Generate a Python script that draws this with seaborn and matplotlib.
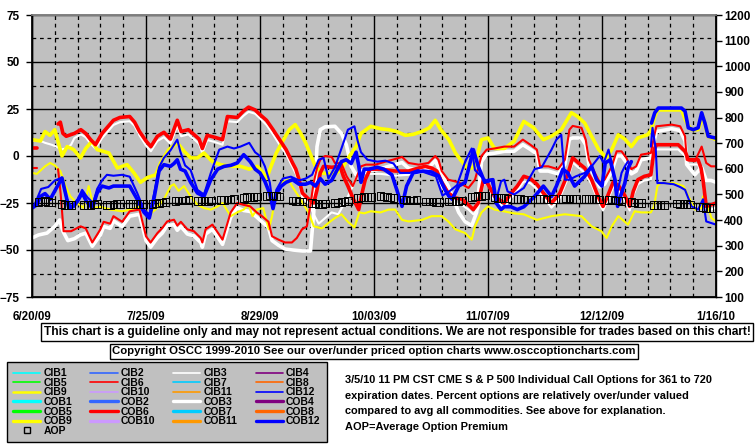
import numpy as np
import pandas as pd
import matplotlib
matplotlib.use('Agg')
import matplotlib.pyplot as plt
from matplotlib.lines import Line2D
from matplotlib.ticker import MultipleLocator, FixedLocator
from matplotlib import font_manager
import seaborn as sns

nan = np.nan

# ---------------- data (day offset from 6/20/09, percent over/under) ----------------
START = pd.Timestamp('2009-06-20')
DATE_TICKS = [0, 35, 70, 105, 140, 175, 210]
DATE_LABELS = ['6/20/09', '7/25/09', '8/29/09', '10/03/09', '11/07/09', '12/12/09', '1/16/10']

COB6 = [(0,4),(1.5,4),(2,nan),(8,17),(8.7,18),(9.5,12),(10.5,10.5),(13,12),(15,14),(16.5,12),(18,8.7),(19.5,6),
        (21.5,12),(23,15),(25,19),(27,20.5),(30,21),(31.5,18),(33,13),(35,8),(36.5,5),(38.5,10.5),(40.5,12.6),
        (42.5,9),(44.6,19),(45.8,13),(48,14),(50,11),(51.3,9),(52.3,4),(53.8,11),(56,10),(58.5,8.7),(60,21),
        (63,20.5),(65,24),(66.5,26),(68.5,24.5),(70,22),(72,19),(74,14),(76,8.7),(78,3.4),(80,-3.7),(81,-7),
        (82,-12.6),(83,-19.7),(85,-23),(86.5,-25),(87.5,-18),(88.5,-9),(89.5,-5.5),(92,-6),(94.6,-5.5),
        (95.6,-10.8),(97,-16),(98.7,-23),(100.3,-28.5),(101.3,-20),(102.3,-12.6),(103.8,-7),(107,-7),(111.5,-8),
        (115.6,-8),(118.7,-6.4),(120.7,-5.5),(122.7,-6.4),(124.3,-8),(125.8,-14),(127.8,-19.7),(130,-22.3),
        (132,-23),(134,-26),(135.5,-28.5),(137,-25),(138.6,-12.6),(140,-15),(142,-21.5),(145,-25),(147,-20),
        (149,-16),(151,-10.8),(153,-12),(155,-15),(157,-19.7),(159.5,-25),(162,-20),(164.6,-9),(166,-1),(168,-4),
        (169.7,-6.4),(171.8,-12.6),(173.8,-21.5),(175.3,-26.8),(176.8,-21),(178.4,-14),(180,-15.5),(182,-21),
        (183.5,-26.8),(184.6,-18.8),(186,-12.6),(188,-10.8),(190,-10),(191,3.4),(191.7,6),(198.4,6),(200.5,2.5),
        (201.5,-2),(204.5,-2),(205.4,-6.4),(206,-12.6),(207,-26.8),(208.5,-26),(210,-25)]

CIB6 = [(0,-6.5),(1.5,-6.5),(2,nan),(8,-7),(8.8,-20),(9.7,-40),(12,-40),(14.9,-37.4),(16.5,-38.5),(18.5,-46),
        (21,-39),(22,-35),(24,-36),(25,-32),(27.7,-35),(30,-29.4),(33,-28.5),(35,-42.7),(36.4,-46),(38.5,-41),
        (40,-38.3),(41.5,-34.8),(43.6,-33.9),(44.6,-37),(45.7,-35),(47.7,-39),(49.7,-40),(51.8,-43.6),(52.3,-46),
        (53.3,-39),(55.4,-36.5),(58.5,-44.5),(61,-30),(63,-25),(65,-26),(67,-26.8),(69,-30),(70.6,-32),(72.6,-35),
        (73.7,-42.7),(75.7,-44.5),(77.7,-46),(79.8,-46),(81.3,-43.6),(82.9,-39),(84.4,-37.4),(85.4,-26.8),
        (86.5,-14),(87.5,-6.4),(88.5,-2),(90,0),(92,-0.5),(93,-3.7),(95,-4),(96.6,-10.8),(98.5,-16),(99.5,-12),
        (101,-5.5),(102.5,-4.6),(105.4,-4.6),(108.5,-3),(111.5,-1.6),(113.6,-0.5),(115.6,-3.7),(118.7,-4.6),
        (121.7,-3.7),(123.8,0),(124.8,-2),(125.8,-8),(127.8,-12.6),(131,-14),(134,-17),(136,-12.6),(138,0),
        (139.6,3.4),(142,4),(145,5),(148,5),(150.7,8.7),(153,6),(155,3.4),(156,-5.5),(158.5,-5.5),(161.5,-7),
        (163.6,-2),(165,14),(166,16),(168.7,15),(170,8.7),(171,-2),(172.8,-9),(174.3,-14),(175.8,-12.6),
        (178,-5.5),(179.5,2.5),(181,2.5),(182.5,-1),(184,-7),(185.5,-5.5),(187,0.7),(190,1.6),(191,10.5),
        (191.7,15.8),(196.4,16.7),(199,15.8),(200.5,10.5),(201,-2),(203.5,-2.8),(205.6,5),(207,-3.7),
        (208.5,-5.5),(210,-5.5)]

CIB3 = [(0,8),(2,8.5),(4,7),(6,6),(7.5,5),(9,3.5),(10.5,4),(12,6),(13,9.5),(15,11.5),(16.5,10),(18,6.5),(19.5,4),
        (21.5,9.5),(23,12.5),(25,16.5),(27,18),(30,18.5),(31.5,16),(33,11),(35,5.5),(36.5,2.5),(38.5,8),(40.5,10),
        (42.5,6.5),(44.6,16),(45.8,10.5),(48,11.5),(50,8.5),(51.3,6.5),(52.3,1.5),(53.8,8.5),(56,7.5),(58.5,6),
        (60,18.5),(63,18),(65,21.5),(66.5,23.5),(68.5,22.5),(70,20),(72,16.5),(74,11.5),(76,6),(78,1),(80,-6),
        (81,-9.5),(82,-15),(83,-22),(85,-25.5),(86.5,-31),(88,-36),(90,-33),(92,-30),(94,-31),(96,-25),(98,-18),
        (100,-10),(102,-9),(104,-9.5),(107,-9.5),(111.5,-10.5),(115.6,-10),(118.7,-9),(120.7,-8),(122.7,-9),
        (124.3,-10.5),(125.8,-16.5),(127.8,-22),(130,-25),(132,-26),(134,-28.5),(135.5,-31),(137,-28),
        (138.6,-15),(140,-14.5),(141.5,-22.5),(143,-24.5),(145,-27.5),(147,-22.5),(149,-18.5),(151,-13.5),
        (153,-14.5),(155,-17.5),(157,-22),(159.5,-27.5),(162,-22.5),(164.6,-11.5),(166,-3.5),(168,-6.5),
        (169.7,-9),(171.8,-15),(173.8,-24),(175.3,-29),(176.8,-23.5),(178.4,-16.5),(180,-18),(182,-23.5),
        (183.5,-29),(184.6,-21),(186,-15),(188,-13),(190,-12.5),(191,1),(191.7,3.5),(198.4,3.5),(200.5,0),
        (201.5,-4.5),(204.5,-4.5),(205.4,-9),(206,-15),(207,-29),(208.5,-28.5),(210,-27.5)]

COB3 = [(0,-43.6),(2,-42),(4.6,-41),(7,-37.4),(8.5,-34),(9.5,-40),(11,-45),(13,-44),(14.8,-42),(16.5,-41),
        (18.5,-48),(21,-42),(22,-37.5),(24,-38.5),(25,-34.5),(27.7,-37.5),(30,-32),(33,-31),(35,-45),(36.4,-48.5),
        (38.5,-43.5),(40,-41),(41.5,-37),(43.6,-36.5),(44.6,-39.5),(45.7,-37.5),(47.7,-41.5),(49.7,-42.5),
        (51.8,-46),(52.3,-48.5),(53.3,-41.5),(55.4,-39),(58.5,-47),(61,-32.5),(63,-27.5),(65,-29),(67,-29.5),
        (69,-32.5),(70.6,-35),(72.6,-38),(73.7,-45),(75.7,-47.5),(77.7,-49.5),(80,-50),(83,-50.5),(85.5,-50.5),
        (86.5,-30),(87.5,5),(88.5,14),(90,15.5),(93,15.8),(95,12),(96.5,6),(98,-5.5),(99.5,-10),(101,-8),
        (102.5,-7.5),(105.4,-7.5),(108.5,-6),(111.5,-4.5),(113.6,-3.5),(115.6,-6.5),(118.7,-7.5),(121.7,-6.5),
        (123.8,-2.5),(125.8,-10),(127.8,-16),(131,-30),(133,-35),(135,-37),(136.5,-30),(138,-3),(139.6,1),
        (142,1.5),(145,2.5),(148,2.5),(150.7,6),(153,3.5),(155,1),(156,-8),(158.5,-8),(161.5,-9.5),(163.6,-4.5),
        (165,9),(166,9.6),(168.7,9.6),(170,6),(171,-4.5),(172.8,-11.5),(174.3,-16.5),(175.8,-15),(178,-8),
        (179.5,0),(181,0),(182.5,-3.5),(184,-9.5),(185.5,-8),(187,-2),(190,-1),(191,8),(191.7,13),(196.4,14.5),
        (199,13.5),(200.5,8),(201,-4.5),(203.5,-10),(205.6,-6),(207,-13),(208.5,-13),(210,-14)]

COB9 = [(0,8.7),(2.6,8),(4,13),(5.5,11),(7,14),(9.2,0),(10.8,5),(12.8,3.4),(14.9,-1),(16.5,4),(18.5,8),(20,3.4),
        (23.6,1.6),(26.2,-6.4),(29.2,-4.6),(31.3,-9),(33.3,-14),(35.4,-11.5),(38,-10),(39.5,-3.7),(42,3.4),
        (44.6,7),(46.7,2.5),(48.7,-1),(50.8,-1),(52.8,1.6),(55.4,-3),(57.9,-4.6),(61,-5.5),(64,-5.5),(66.7,-7),
        (69.2,-5.5),(71,-9),(72,-12),(73.5,-5),(75,1.6),(77,8),(79,14),(80.8,16.7),(82.5,12),(84,7),(85.7,0),
        (87,-5.5),(89,-9),(91,-9.5),(93.5,-9),(95,-7),(97.5,0),(99.5,5),(101,12),(104,15.8),(107,14.5),
        (109.5,14),(112,13),(114.6,11),(117,11.5),(119.7,13),(122,15),(123.8,19),(125.5,14),(128,8.7),(130,1.6),
        (132,-3),(134,-7),(135.5,-6),(137,2),(138,8.7),(140,9.6),(142,4),(145,4),(148,7.8),(151,18.4),(154,15),
        (157,8.7),(159.5,10.5),(162.5,14),(165.6,23),(167.5,21),(169.7,17.5),(171.8,10.5),(174,3.4),(176.4,-1),
        (178,3.4),(180,11.3),(182,9),(184,5),(186,9.6),(189,11.3),(190.2,14),(191,20),(192,24.5),(199.4,24.5),
        (201,17.5),(202.5,14),(204.5,14),(206,21),(207.5,10.5),(210,8.7)]

CIB9 = [(0,-9),(1.5,-9.5),(4,-5.5),(5.6,-3.7),(7,-5),(8.7,-8),(10.3,-16),(11.8,-21.5),(13.8,-25),(15.9,-27.7),
        (17.4,-16),(19,-27.7),(21,-27),(24,-28.5),(27.7,-29.4),(30.3,-28.5),(33.3,-26.8),(35.9,-31.2),
        (37.9,-28.5),(40.5,-23),(42.6,-16),(43.6,-15),(45,-18.5),(46.7,-16),(48.7,-21.5),(50.8,-26),(52.8,-27.7),
        (54.9,-28.5),(57,-26.8),(58.5,-25),(61,-32),(63,-30),(65,-28.5),(66.5,-26),(67.7,-32),(69,-28.5),
        (71,-27.7),(72.7,-39),(73.7,-32),(74.7,-21.5),(76.7,-14),(78.8,-12.6),(79.8,-16),(81.9,-21.5),(84.9,-30),
        (86.5,-37.4),(89,-38.5),(91.6,-34.8),(93,-33),(95,-31),(97,-35),(99,-38),(100.5,-30),(102,-30.5),
        (104,-29.4),(107,-30),(109.5,-28.5),(111.5,-28.5),(113.6,-34),(115.6,-34.8),(119.7,-34),(122.7,-32),
        (125.8,-32),(127.8,-34.8),(130,-39),(133,-41),(135,-44.5),(136,-37.4),(138,-30),(140,-26.8),(142,-28.5),
        (145,-29.5),(148,-30.5),(151,-31),(155,-34),(159.5,-32),(163.6,-31),(168.7,-32),(171.8,-37.4),
        (174.8,-40),(176.4,-43.6),(178,-37.4),(180,-32),(183,-36.5),(185,-29.4),(187,-30),(190,-30),(191,-26.8),
        (192,-16),(193,-14.4),(197,-14.4),(200,-16),(202,-23),(203.5,-28.5),(205.6,-27.7),(206,-21.5),
        (207.5,-27),(208.6,-33),(210,-34.8)]

COB12 = [(0,-27.7),(1.5,-26),(2.6,-21.5),(4,-20),(5.6,-23),(7.5,-17),(9.2,-11.7),(10.3,-20),(11.3,-27.7),
         (12.8,-26.8),(14,-24),(15.4,-19.7),(16.7,-24),(18.5,-27.7),(20,-19.7),(21.5,-16),(23.6,-17),(25,-16),
         (27.7,-16),(30,-16),(32.3,-23),(34.4,-30),(36,-33),(37.4,-23),(39,-8),(40.5,-4.6),(42.5,-5.5),(43.6,-4),
         (44.6,-2),(45.6,-7),(47,-8),(48.7,-14),(50.8,-19.7),(52.8,-21.5),(54.9,-12.6),(57,-7),(59,-5.5),(61,-5),
         (63,-3.7),(65,0.7),(67,-3),(68.5,-7),(70,-9),(71.5,-13.5),(73,-20),(74,-28),(75,-20),(76.5,-16),(78,-14),
         (80,-12.6),(82,-15),(84,-15),(85.5,-14),(87,-16),(88.5,-12),(90,-15),(92,-13),(93.5,-8),(95,-3),
         (96.5,-2),(98,-4),(99.5,2),(100.3,-5),(101,-14),(102,-7),(103.5,-7),(106,-6),(108,-7),(110.5,-10),
         (112,-18),(113.6,-26.8),(115,-16),(117,-9),(120,-8),(122.7,-8.5),(124.8,-10.5),(126.8,-18),(128,-21.5),
         (129,-23),(131,-16),(133,-14),(135.5,3.4),(137,-5.5),(139,-14),(140,-13),(141.5,-12.6),(142.5,-25),
         (144,-28.5),(145,-27),(147,-27),(149,-28.5),(151,-27),(154.3,-21.5),(157,-16),(159.5,-21.5),(161,-16),
         (163,-7),(164.5,-9),(166.6,-16),(169.7,-10.8),(171.8,-5.5),(173.3,-12.6),(175,-16),(176,-3.7),
         (177.5,-2),(179,-12.6),(179.8,-26.8),(181,-19.7),(182,-14.4),(183,-6.4),(184,-3),(186,nan),(190.2,17.5),
         (191.2,23),(192.3,25.5),(199.4,25.5),(200.5,23.8),(201.5,15),(203,14),(204.5,15),(205.6,23),
         (206.6,17.5),(207.6,10.5),(209.7,9.6)]

CIB12 = [(0,-27.7),(1,-25),(2.8,-17.5),(5,-16.5),(7,-13),(9.2,-11.5),(10.5,-22),(12,-27),(14,-23),(15.4,-18),
         (17,-22),(18.8,-25),(20,-17.5),(21.5,-13),(23,-10),(25,-10.5),(27.7,-10),(30,-11),(32.3,-19.7),
         (34.4,-28.5),(36,-31.2),(37.5,-20),(39,-6),(40.5,-1),(42.5,3),(44.6,8.7),(45.6,2),(47,-5),(48.7,-7.5),
         (50.8,-18),(52.8,-20.5),(54.9,-9),(57.5,3.4),(60,5),(62,4),(64,5),(66.7,7),(68.5,2),(70,0),(71.5,-5.5),
         (73,-14),(74,-27),(75,-18),(77,-12),(79.5,-11),(82,-13),(84,-12),(86,-10),(88,-2),(89.5,-1),(91,-12),
         (93,-6),(95,4),(97,14),(99,15.8),(100,8),(101,2),(103,-2),(106,-3),(108.5,-2.5),(111,-4),(113,-9),
         (116,-9),(118.5,-7.5),(121,-9),(124,-10.8),(126,-21),(128,-19),(130.5,-15.5),(133,-3),(135,4),
         (136,-7.5),(138,-11),(140,-14),(141,-12.6),(142.6,-23),(144,-13.5),(145,-12.6),(146,-18.8),(148,-20.5),
         (151,-17),(154.3,-7),(156.5,-6),(159.5,3.4),(161,8.7),(162.5,11.3),(163.6,-12.6),(165,-12.6),
         (167,-10.8),(169.7,-9),(171.8,-5.5),(174.3,0),(175.5,-3.7),(177,3.4),(178,-3.7),(179.5,-21.5),(181,-9),
         (182,-5.5),(183,-2.8),(185,nan),(190,5),(190.5,15),(191.5,4),(192,-14.4),(194,-14.4),(197,-15),
         (199,-16.5),(200.5,-18),(202.5,-26.8),(204.5,-28.5),(206,-23),(207,-34.8),(210,-36.5)]

# Average option premium (right axis), one list per trading week
AOP_WEEKS = [
    [470, 472, 474, 470, 468], [462, 460, 459, 460], [458, 459, 460, 461, 462], [459, 460, 461, 462, 463],
    [462, 463, 463, 462, 462], [462, 465, 467, 469, 470], [475, 476, 477, 477, 478], [474, 474, 475, 475, 476],
    [478, 479, 480, 481, 482], [487, 489, 490, 491, 492], [494, 496, 496, 494, 492], [476, 474, 473, 472],
    [466, 464, 463, 463, 464], [467, 469, 471, 473, 474], [486, 488, 490, 491, 491], [493, 492, 490, 488, 487],
    [480, 478, 477, 477, 478], [473, 472, 472, 471, 471], [472, 473, 474, 475, 476], [490, 492, 494, 495, 496],
    [488, 487, 486, 485, 484], [482, 482, 481, 481, 480], [482, 482, 481, 482], [483, 484, 484, 483, 483],
    [483, 483, 482, 482, 481], [479, 478, 477, 476, 475], [470, 468, 467, 466], [460, 459, 459, 458],
    [464, 463, 463, 462, 461], [452, 450, 448, 447, 446],
]
HOLIDAYS = ['2009-07-03', '2009-09-07', '2009-11-26', '2009-12-25', '2010-01-01']

LEGEND_NAMES = ['CIB1', 'CIB2', 'CIB3', 'CIB4', 'CIB5', 'CIB6', 'CIB7', 'CIB8', 'CIB9', 'CIB10', 'CIB11', 'CIB12',
                'COB1', 'COB2', 'COB3', 'COB4', 'COB5', 'COB6', 'COB7', 'COB8', 'COB9', 'COB10', 'COB11', 'COB12']
LEGEND_COLORS = ['#00FFFF', '#3366FF', '#FFFFFF', '#800080', '#00FF00', '#FF0000', '#00CCFF', '#FF6600',
                 '#FFFF00', '#CC99FF', '#FF9900', '#0000FF']

# ---------------- style ----------------
sns.set_theme(style='white')
names = {f.name for f in font_manager.fontManager.ttflist}
ARIAL = 'Liberation Sans' if 'Liberation Sans' in names else 'DejaVu Sans'
FAM = [ARIAL, 'DejaVu Sans']
plt.rcParams['font.family'] = FAM
plt.rcParams.update({'text.color': 'black', 'xtick.color': 'black', 'ytick.color': 'black',
                     'axes.edgecolor': 'black', 'axes.labelcolor': 'black'})

W, H = 755, 446
fig = plt.figure(figsize=(W / 100, H / 100), dpi=100)
fig.patch.set_facecolor('white')
ax = fig.add_axes([32 / W, 1 - 297 / H, 684 / W, 282 / H])
ax.set_facecolor('#C0C0C0')


def to_frame(points, name):
    df = pd.DataFrame(points, columns=['day', 'value'])
    df['seg'] = df['value'].isna().cumsum()
    df = df.dropna()
    df['series'] = name
    return df


series_style = [
    ('CIB3', CIB3, '#FFFFFF', 1.5), ('COB3', COB3, '#FFFFFF', 2.6),
    ('CIB9', CIB9, '#FFFF00', 1.5), ('COB9', COB9, '#FFFF00', 2.6),
    ('CIB6', CIB6, '#FF0000', 1.5), ('COB6', COB6, '#FF0000', 2.6),
    ('CIB12', CIB12, '#0000FF', 1.5), ('COB12', COB12, '#0000FF', 2.6),
]
for name, pts, col, lw in series_style:
    d = to_frame(pts, name)
    sns.lineplot(data=d, x='day', y='value', units='seg', estimator=None, sort=False,
                 color=col, lw=lw, ax=ax, legend=False)

ax.set_xlim(0, 210)
ax.set_ylim(-75, 75)
ax.xaxis.set_major_locator(FixedLocator(DATE_TICKS))
ax.xaxis.set_minor_locator(FixedLocator([d for d in range(7, 210, 7) if d % 35]))
ax.set_xticklabels(DATE_LABELS)
ax.yaxis.set_major_locator(MultipleLocator(25))
ax.yaxis.set_minor_locator(FixedLocator([-62.5, -37.5, -12.5, 12.5, 37.5, 62.5]))
ax.set_axisbelow(True)
ax.grid(which='major', color='black', lw=1, ls='-')
ax.grid(which='minor', color='black', lw=0.9, ls=(0, (3, 3)))
ax.set_xlabel('')
ax.set_ylabel('')
ax.tick_params(axis='x', which='both', length=0, pad=10, labelsize=8.3)
ax.tick_params(axis='y', which='major', length=4, width=1, direction='out', pad=5, labelsize=8.5, left=True)
ax.tick_params(axis='y', which='minor', length=0)
for lab in ax.get_xticklabels() + ax.get_yticklabels():
    lab.set_fontweight('bold')
for s in ['left', 'bottom', 'right']:
    ax.spines[s].set_color('black')
    ax.spines[s].set_linewidth(1)
ax.spines['top'].set_color('#808080')

# AOP on the right axis
hol = pd.to_datetime(HOLIDAYS)
tdays = [d for d in pd.bdate_range('2009-06-22', '2010-01-15') if d not in hol]
aop_vals = [v for wk in AOP_WEEKS for v in wk]
n = min(len(tdays), len(aop_vals))
aop = pd.DataFrame({'day': [(d - START).days for d in tdays[:n]], 'value': aop_vals[:n]})
ax2 = ax.twinx()
ax2.set_position(ax.get_position())
sns.scatterplot(data=aop, x='day', y='value', marker='s', s=30, facecolor='none', edgecolor='black',
                linewidth=0.7, ax=ax2, legend=False, zorder=5)
ax2.set_ylim(100, 1200)
ax2.set_xlim(0, 210)
ax2.yaxis.set_major_locator(MultipleLocator(100))
ax2.grid(False)
ax2.set_ylabel('')
ax2.tick_params(axis='y', length=4, width=1, direction='out', pad=2, labelsize=8.5, right=True)
for lab in ax2.get_yticklabels():
    lab.set_fontweight('bold')
for s in ['left', 'bottom', 'right']:
    ax2.spines[s].set_color('black')
ax2.spines['top'].set_color('#808080')

# ---------------- text boxes ----------------
fig.text(397 / W, 1 - 332 / H,
         'This chart is a guideline only and may not represent actual conditions. '
         'We are not responsible for trades based on this chart!',
         ha='center', va='center', fontsize=8.6, fontweight='bold', family=FAM,
         bbox=dict(boxstyle='square,pad=0.22', fc='white', ec='black', lw=1))
fig.text(374 / W, 1 - 351.5 / H,
         'Copyright OSCC 1999-2010 See our over/under priced option charts www.osccoptioncharts.com',
         ha='center', va='center', fontsize=8.2, fontweight='bold', family=FAM,
         bbox=dict(boxstyle='square,pad=0.22', fc='white', ec='black', lw=1))
info = ['3/5/10 11 PM CST CME S & P 500 Individual Call Options for 361 to 720',
        'expiration dates. Percent options are relatively over/under valued',
        'compared to avg all commodities. See above for explanation.',
        'AOP=Average Option Premium']
for i, line in enumerate(info):
    fig.text(345 / W, 1 - (380 + 15.7 * i) / H, line, ha='left', va='center', fontsize=7.9,
             fontweight='bold', family=FAM)

# ---------------- legend ----------------
handles = {}
for i, nm in enumerate(LEGEND_NAMES):
    col = LEGEND_COLORS[i % 12]
    thick = nm.startswith('COB')
    lw = 2.4 if thick else 1.2
    if nm == 'CIB9':
        lw = 1.8
    handles[nm] = Line2D([], [], color=col, lw=lw)
handles['AOP'] = Line2D([], [], ls='none', marker='s', markersize=5, markerfacecolor='none',
                        markeredgecolor='black', markeredgewidth=1)
order = ['CIB1', 'CIB5', 'CIB9', 'COB1', 'COB5', 'COB9', 'AOP',
         'CIB2', 'CIB6', 'CIB10', 'COB2', 'COB6', 'COB10',
         'CIB3', 'CIB7', 'CIB11', 'COB3', 'COB7', 'COB11',
         'CIB4', 'CIB8', 'CIB12', 'COB4', 'COB8', 'COB12']
leg = fig.legend([handles[k] for k in order], order, loc='lower left', bbox_to_anchor=(7 / W, 4 / H),
                 ncol=4, frameon=True, fancybox=False, facecolor='#C0C0C0', edgecolor='black', framealpha=1,
                 prop=dict(family=FAM, weight='bold', size=7.5),
                 handlelength=2.6, handletextpad=0.3, columnspacing=1.75, labelspacing=-0.04,
                 borderpad=0.6, borderaxespad=0)
leg.get_frame().set_linewidth(1)

fig.savefig('out.png', dpi=100, facecolor='white')
